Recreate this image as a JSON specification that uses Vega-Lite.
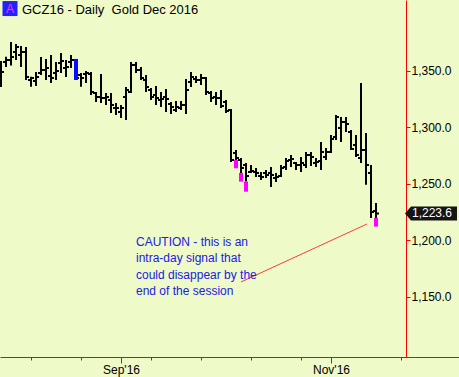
{
  "$schema": "https://vega.github.io/schema/vega-lite/v6.json",
  "width": 459,
  "height": 357,
  "autosize": "none",
  "padding": {"left": 0, "top": 0, "right": 0, "bottom": 20},
  "background": "#eefac8",
  "config": {"view": {"stroke": null}, "font": "Liberation Sans"},
  "title": {"text": "GCZ16 - Daily\u00a0 Gold Dec 2016", "anchor": "start", "frame": "group", "orient": "top", "offset": -13, "baseline": "alphabetic", "dx": 22, "dy": 14, "fontSize": 13, "fontWeight": "normal", "color": "#000000", "font": "Liberation Sans"},
  "datasets": {
    "bars": [
      {"i": -24, "o": 1343.5, "h": 1358.6, "l": 1335.6, "c": 1348.9},
      {"i": -23, "o": 1357.7, "h": 1362.4, "l": 1353.3, "c": 1359.5},
      {"i": -22, "o": 1359.5, "h": 1375.4, "l": 1354.6, "c": 1362.1},
      {"i": -21, "o": 1366.6, "h": 1373.6, "l": 1359.5, "c": 1371.0},
      {"i": -20, "o": 1363.9, "h": 1371.9, "l": 1353.3, "c": 1366.6},
      {"i": -19, "o": 1366.6, "h": 1371.0, "l": 1341.8, "c": 1344.4},
      {"i": -18, "o": 1341.8, "h": 1344.7, "l": 1335.8, "c": 1343.5},
      {"i": -17, "o": 1340.9, "h": 1348.9, "l": 1336.5, "c": 1344.4},
      {"i": -16, "o": 1348.0, "h": 1362.1, "l": 1346.2, "c": 1350.6},
      {"i": -15, "o": 1350.6, "h": 1360.4, "l": 1341.8, "c": 1352.4},
      {"i": -14, "o": 1345.3, "h": 1363.9, "l": 1339.1, "c": 1343.5},
      {"i": -13, "o": 1348.0, "h": 1357.7, "l": 1341.8, "c": 1349.7},
      {"i": -12, "o": 1356.8, "h": 1365.7, "l": 1348.0, "c": 1358.6},
      {"i": -11, "o": 1352.4, "h": 1359.5, "l": 1344.4, "c": 1353.3},
      {"i": -10, "o": 1357.7, "h": 1363.9, "l": 1352.4, "c": 1359.5},
      {"i": -9, "o": 1359.5, "h": 1360.4, "l": 1341.8, "c": 1343.5},
      {"i": -8, "o": 1346.2, "h": 1348.0, "l": 1335.8, "c": 1343.5},
      {"i": -7, "o": 1347.1, "h": 1349.7, "l": 1339.1, "c": 1348.0},
      {"i": -6, "o": 1347.1, "h": 1348.9, "l": 1328.5, "c": 1331.2},
      {"i": -5, "o": 1330.3, "h": 1331.2, "l": 1322.3, "c": 1326.7},
      {"i": -4, "o": 1326.7, "h": 1347.1, "l": 1321.4, "c": 1325.8},
      {"i": -3, "o": 1325.8, "h": 1330.3, "l": 1319.6, "c": 1326.7},
      {"i": -2, "o": 1324.1, "h": 1330.3, "l": 1312.6, "c": 1319.6},
      {"i": -1, "o": 1317.0, "h": 1321.4, "l": 1310.8, "c": 1317.0},
      {"i": 0, "o": 1313.5, "h": 1319.6, "l": 1308.1, "c": 1317.0},
      {"i": 1, "o": 1326.7, "h": 1335.6, "l": 1306.4, "c": 1332.9},
      {"i": 2, "o": 1331.2, "h": 1357.7, "l": 1330.3, "c": 1355.0},
      {"i": 3, "o": 1355.0, "h": 1357.7, "l": 1348.0, "c": 1350.6},
      {"i": 4, "o": 1350.6, "h": 1353.3, "l": 1341.8, "c": 1343.5},
      {"i": 5, "o": 1341.8, "h": 1346.2, "l": 1331.2, "c": 1335.6},
      {"i": 6, "o": 1332.9, "h": 1334.7, "l": 1324.1, "c": 1326.7},
      {"i": 7, "o": 1328.5, "h": 1336.5, "l": 1319.6, "c": 1325.8},
      {"i": 8, "o": 1324.1, "h": 1331.2, "l": 1317.9, "c": 1325.0},
      {"i": 9, "o": 1326.7, "h": 1333.8, "l": 1313.5, "c": 1325.0},
      {"i": 10, "o": 1320.5, "h": 1322.3, "l": 1311.7, "c": 1317.9},
      {"i": 11, "o": 1315.2, "h": 1323.2, "l": 1313.5, "c": 1317.9},
      {"i": 12, "o": 1317.0, "h": 1323.2, "l": 1315.2, "c": 1319.6},
      {"i": 13, "o": 1319.6, "h": 1342.7, "l": 1311.7, "c": 1332.9},
      {"i": 14, "o": 1340.0, "h": 1348.9, "l": 1335.6, "c": 1344.4},
      {"i": 15, "o": 1342.7, "h": 1345.3, "l": 1339.1, "c": 1341.8},
      {"i": 16, "o": 1341.8, "h": 1347.1, "l": 1337.3, "c": 1343.5},
      {"i": 17, "o": 1343.5, "h": 1344.4, "l": 1328.5, "c": 1331.2},
      {"i": 18, "o": 1330.3, "h": 1332.0, "l": 1322.3, "c": 1325.8},
      {"i": 19, "o": 1326.7, "h": 1331.2, "l": 1319.6, "c": 1325.8},
      {"i": 20, "o": 1325.8, "h": 1332.9, "l": 1317.0, "c": 1318.8},
      {"i": 21, "o": 1322.3, "h": 1324.1, "l": 1312.6, "c": 1314.3},
      {"i": 22, "o": 1315.2, "h": 1316.1, "l": 1269.2, "c": 1271.0},
      {"i": 23, "o": 1277.2, "h": 1279.8, "l": 1271.0, "c": 1272.7},
      {"i": 24, "o": 1271.0, "h": 1272.7, "l": 1259.5, "c": 1263.9},
      {"i": 25, "o": 1266.5, "h": 1268.3, "l": 1251.9, "c": 1256.8},
      {"i": 26, "o": 1260.4, "h": 1266.5, "l": 1259.5, "c": 1261.2},
      {"i": 27, "o": 1260.4, "h": 1263.9, "l": 1255.9, "c": 1259.5},
      {"i": 28, "o": 1256.8, "h": 1260.4, "l": 1253.3, "c": 1255.9},
      {"i": 29, "o": 1259.5, "h": 1262.1, "l": 1255.0, "c": 1257.7},
      {"i": 30, "o": 1259.5, "h": 1264.8, "l": 1247.1, "c": 1257.7},
      {"i": 31, "o": 1255.0, "h": 1259.5, "l": 1251.5, "c": 1255.9},
      {"i": 32, "o": 1256.8, "h": 1266.5, "l": 1255.9, "c": 1263.9},
      {"i": 33, "o": 1264.8, "h": 1272.7, "l": 1262.1, "c": 1270.1},
      {"i": 34, "o": 1271.0, "h": 1275.4, "l": 1264.8, "c": 1271.9},
      {"i": 35, "o": 1268.3, "h": 1269.2, "l": 1262.1, "c": 1266.5},
      {"i": 36, "o": 1266.5, "h": 1273.6, "l": 1260.4, "c": 1268.3},
      {"i": 37, "o": 1266.5, "h": 1278.0, "l": 1263.9, "c": 1275.4},
      {"i": 38, "o": 1275.4, "h": 1278.0, "l": 1265.7, "c": 1273.6},
      {"i": 39, "o": 1268.3, "h": 1272.7, "l": 1264.8, "c": 1269.2},
      {"i": 40, "o": 1270.1, "h": 1286.9, "l": 1262.1, "c": 1278.0},
      {"i": 41, "o": 1273.6, "h": 1281.6, "l": 1271.0, "c": 1278.0},
      {"i": 42, "o": 1278.0, "h": 1293.1, "l": 1277.2, "c": 1289.6},
      {"i": 43, "o": 1291.3, "h": 1310.8, "l": 1288.7, "c": 1309.0},
      {"i": 44, "o": 1299.3, "h": 1309.0, "l": 1286.9, "c": 1304.6},
      {"i": 45, "o": 1304.6, "h": 1309.0, "l": 1295.8, "c": 1302.8},
      {"i": 46, "o": 1295.8, "h": 1297.5, "l": 1279.8, "c": 1280.7},
      {"i": 47, "o": 1284.2, "h": 1293.1, "l": 1273.6, "c": 1275.4},
      {"i": 48, "o": 1272.7, "h": 1339.1, "l": 1268.3, "c": 1279.8},
      {"i": 49, "o": 1279.8, "h": 1294.9, "l": 1249.0, "c": 1266.5},
      {"i": 50, "o": 1259.5, "h": 1266.5, "l": 1219.6, "c": 1225.0},
      {"i": 51, "o": 1225.8, "h": 1232.9, "l": 1219.6, "c": 1223.6}
    ],
    "signals": [
      {"i": -9, "top": 1360.4, "bottom": 1341.8, "kind": "A"},
      {"i": 23, "top": 1271.0, "bottom": 1263.6, "kind": "B"},
      {"i": 24, "top": 1259.5, "bottom": 1251.8, "kind": "B"},
      {"i": 25, "top": 1251.9, "bottom": 1242.9, "kind": "B"},
      {"i": 51, "top": 1219.6, "bottom": 1212.0, "kind": "B"}
    ]
  },
  "layer": [
    {
      "data": {"name": "bars"},
      "mark": {"type": "rule", "strokeWidth": 2, "color": "#000000"},
      "encoding": {
        "x": {"field": "i", "type": "quantitative", "scale": {"domain": [-24.2, 67.6], "nice": false, "zero": false},
          "axis": {"orient": "bottom", "title": null, "grid": false,
            "values": [-18, -13, -8, -3, 0, 2, 6, 11, 16, 21, 26, 31, 36, 41, 42, 46, 56],
            "labelExpr": "datum.value == 0 ? \"Sep'16\" : datum.value == 21 ? \"Oct'16\" : datum.value == 42 ? \"Nov'16\" : ''",
            "domainColor": "#ff0000", "domainWidth": 1, "tickColor": "#ff0000", "tickWidth": 1,
            "tickSize": {"condition": {"test": "datum.value == 0 || datum.value == 21 || datum.value == 42", "value": 6}, "value": 3},
            "labelFontSize": 12, "labelColor": "#000000", "labelPadding": 1, "labelOverlap": false, "labelFlush": false}},
        "y": {"field": "l", "type": "quantitative", "scale": {"domain": [1096.57, 1412.57], "nice": false, "zero": false},
          "axis": {"orient": "right", "offset": -53, "title": null, "grid": false,
            "values": [1150, 1200, 1250, 1300, 1350], "format": ",.1f",
            "domainColor": "#ff0000", "domainWidth": 1, "tickColor": "#ff0000", "tickSize": 4, "tickWidth": 1,
            "labelFontSize": 12, "labelColor": "#000000", "labelPadding": 1}},
        "y2": {"field": "h"}
      }
    },
    {
      "data": {"name": "bars"},
      "mark": {"type": "tick", "orient": "horizontal", "size": 2, "thickness": 2, "xOffset": -2, "color": "#000000", "opacity": 1},
      "encoding": {
        "x": {"field": "i", "type": "quantitative"},
        "y": {"field": "o", "type": "quantitative"}
      }
    },
    {
      "data": {"name": "bars"},
      "mark": {"type": "tick", "orient": "horizontal", "size": 2, "thickness": 2, "xOffset": 2, "color": "#000000", "opacity": 1},
      "encoding": {
        "x": {"field": "i", "type": "quantitative"},
        "y": {"field": "c", "type": "quantitative"}
      }
    },
    {
      "data": {"name": "signals"},
      "mark": {"type": "rule", "strokeWidth": 4, "strokeCap": "butt"},
      "encoding": {
        "x": {"field": "i", "type": "quantitative"},
        "y": {"field": "top", "type": "quantitative"},
        "y2": {"field": "bottom"},
        "color": {"field": "kind", "type": "nominal", "scale": {"domain": ["A", "B"], "range": ["#0a0aff", "#ff00ff"]}, "legend": null}
      }
    },
    {
      "data": {"values": [{}]},
      "mark": {"type": "rule", "color": "#ff3c3c", "strokeWidth": 1},
      "encoding": {
        "x": {"datum": 24.0},
        "y": {"datum": 1163.0},
        "x2": {"datum": 49.2},
        "y2": {"datum": 1214.3}
      }
    },
    {
      "data": {"values": [{}]},
      "mark": {"type": "text", "align": "left", "baseline": "middle", "fontSize": 12, "lineHeight": 16.5, "color": "#2020e0",
        "text": ["CAUTION - this is an", "intra-day signal that", "could disappear by the", "end of the session"]},
      "encoding": {
        "x": {"datum": 3},
        "y": {"datum": 1198.4}
      }
    },
    {
      "data": {"values": [{}]},
      "mark": {"type": "point", "shape": "square", "filled": true, "size": 225, "color": "#2222ff", "opacity": 1},
      "encoding": {
        "x": {"datum": -22.2},
        "y": {"datum": 1405.0}
      }
    },
    {
      "data": {"values": [{}]},
      "mark": {"type": "text", "text": "A", "align": "center", "baseline": "middle", "fontSize": 12, "color": "#ff33ff"},
      "encoding": {
        "x": {"datum": -22.2},
        "y": {"datum": 1405.0}
      }
    },
    {
      "data": {"name": "bars"},
      "transform": [{"filter": "datum.i == 51"}],
      "mark": {"type": "point", "shape": "M-1,0L-0.77,-0.27L1,-0.27L1,0.27L-0.77,0.27Z", "filled": true, "size": 2704, "color": "#151515", "opacity": 1},
      "encoding": {
        "x": {"datum": 62},
        "y": {"field": "c", "type": "quantitative"}
      }
    },
    {
      "data": {"name": "bars"},
      "transform": [{"filter": "datum.i == 51"}],
      "mark": {"type": "text", "align": "center", "baseline": "middle", "fontSize": 12, "color": "#ffffff", "dx": 1},
      "encoding": {
        "x": {"datum": 62},
        "y": {"field": "c", "type": "quantitative"},
        "text": {"field": "c", "type": "quantitative", "format": ",.1f"}
      }
    }
  ]
}
